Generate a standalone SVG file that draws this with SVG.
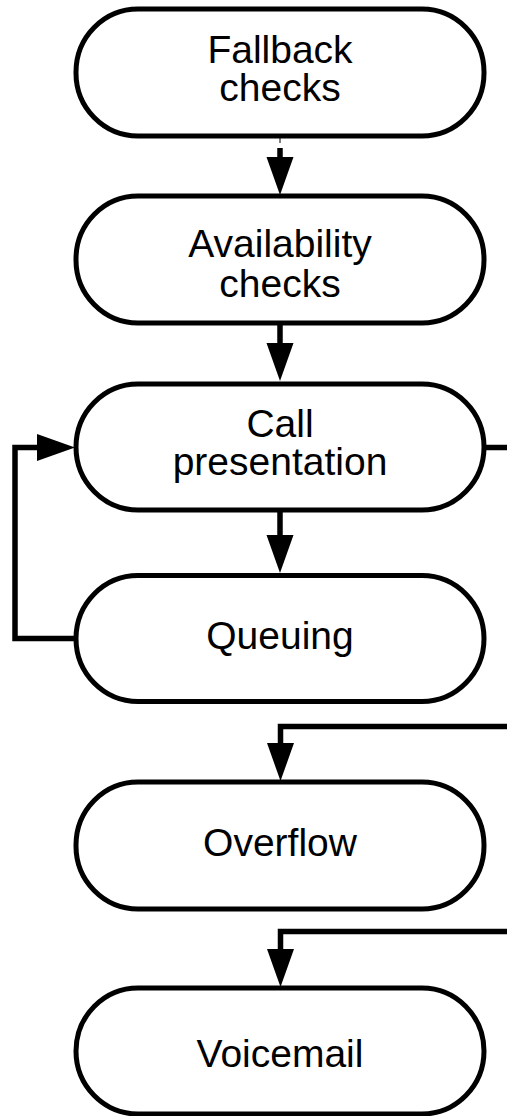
<svg xmlns="http://www.w3.org/2000/svg" width="507" height="1116" viewBox="0 0 507 1116">
<style>
.node rect{fill:#fff;stroke:#000;stroke-width:5}
.node text{font-family:"Liberation Sans",Arial,sans-serif;font-size:39px;fill:#000;text-anchor:middle}
.conn{fill:none;stroke:#000;stroke-width:5.5;stroke-linejoin:miter}
</style>
<defs>
<marker id="ah" markerUnits="userSpaceOnUse" markerWidth="38" markerHeight="27" refX="0" refY="13.5" orient="auto" overflow="visible">
<path d="M0,0 L38,13.5 L0,27 Z" fill="#000"/>
</marker>
</defs>
<rect width="507" height="1116" fill="#fff"/>
<g id="connectors">
<line x1="280" y1="137" x2="280" y2="143" stroke="#000" stroke-width="1"/>
<path class="conn" d="M280,148 V157" marker-end="url(#ah)"/>
<path class="conn" d="M280,322 V343" marker-end="url(#ah)"/>
<path class="conn" d="M280,510 V535" marker-end="url(#ah)"/>
<path class="conn" d="M76,638.5 H15 V447.5 H37" marker-end="url(#ah)"/>
<path class="conn" d="M484,447.5 H507"/>
<path class="conn" d="M507,726.5 H280.5 V743" marker-end="url(#ah)"/>
<path class="conn" d="M507,931.5 H280.5 V949" marker-end="url(#ah)"/>
</g>
<g id="fallback" class="node">
<rect x="76" y="9" width="408" height="127" rx="62" ry="63"/>
<text x="280" y="63">Fallback</text>
<text x="280" y="101">checks</text>
</g>
<g id="availability" class="node">
<rect x="76" y="196" width="408" height="127" rx="62" ry="63"/>
<text x="280" y="257">Availability</text>
<text x="280" y="297">checks</text>
</g>
<g id="presentation" class="node">
<rect x="76" y="384" width="408" height="126" rx="62" ry="63"/>
<text x="280" y="437">Call</text>
<text x="280" y="475">presentation</text>
</g>
<g id="queuing" class="node">
<rect x="76" y="575.5" width="408" height="126" rx="62" ry="63"/>
<text x="280" y="649">Queuing</text>
</g>
<g id="overflow" class="node">
<rect x="76" y="782" width="408" height="127" rx="62" ry="63"/>
<text x="280" y="856">Overflow</text>
</g>
<g id="voicemail" class="node">
<rect x="76" y="988" width="408" height="126" rx="62" ry="63"/>
<text x="280" y="1067">Voicemail</text>
</g>
</svg>
